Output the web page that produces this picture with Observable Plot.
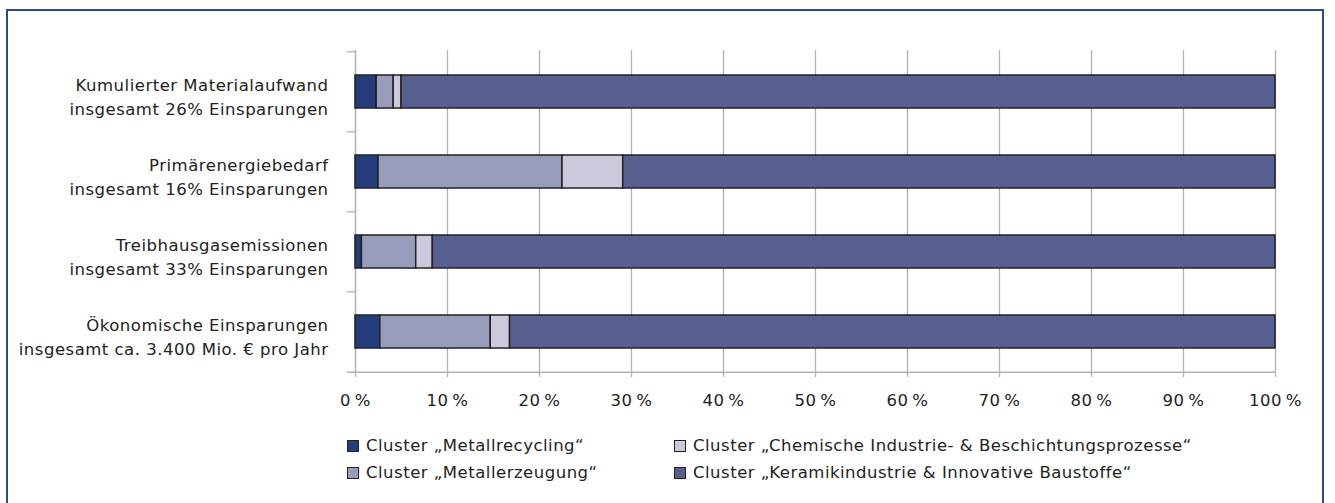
<!DOCTYPE html>
<html>
<head>
<meta charset="utf-8">
<script src="https://cdn.jsdelivr.net/npm/d3@7"></script>
<script src="https://cdn.jsdelivr.net/npm/@observablehq/plot@0.6"></script>
<style>
  html, body { margin: 0; padding: 0; background: #fff; }
  body { width: 1335px; height: 503px; position: relative; overflow: hidden; font-family: "DejaVu Sans", sans-serif; color: #222; }
  #frame { position: absolute; left: 6px; top: 9px; width: 1318px; height: 520px; border: 2px solid #2e4a8c; box-sizing: border-box; }
  #chart { position: absolute; left: 0; top: 0; }
  #legend { position: absolute; left: 0; top: 420px; width: 1335px; height: 83px; font-size: 16.5px; letter-spacing: 0.5px; }
  .item { position: absolute; display: flex; align-items: center; white-space: nowrap; }
  .sw { width: 10px; height: 10px; border: 1px solid #222; margin-right: 7px; }
</style>
</head>
<body>
<div id="frame"></div>
<div id="chart"></div>
<div id="legend"></div>
<script>
const categories = ["Kumulierter Materialaufwand", "Primärenergiebedarf", "Treibhausgasemissionen", "Ökonomische Einsparungen"];
const subLabels = ["insgesamt 26% Einsparungen", "insgesamt 16% Einsparungen", "insgesamt 33% Einsparungen", "insgesamt ca. 3.400 Mio. € pro Jahr"];
const clusters = [
  "Cluster „Metallrecycling“",
  "Cluster „Metallerzeugung“",
  "Cluster „Chemische Industrie- & Beschichtungsprozesse“",
  "Cluster „Keramikindustrie & Innovative Baustoffe“"
];
const metallrecycling = [2.3, 2.5, 0.7, 2.7];
const metallerzeugung = [1.85, 20.0, 5.9, 12.0];
const chemische = [0.85, 6.6, 1.8, 2.1];
const keramik = [95.0, 70.9, 91.6, 83.2];
const colors = ["#233c7a", "#9a9cbb", "#cacadc", "#575f8f"];
const xTicks = [0, 10, 20, 30, 40, 50, 60, 70, 80, 90, 100];

const series = [metallrecycling, metallerzeugung, chemische, keramik];
const data = [];
categories.forEach((c, i) => series.forEach((s, j) => data.push({category: c, cluster: clusters[j], value: s[i]})));

const step = (372 - 50) / categories.length;

const plot = Plot.plot({
  width: 1335,
  height: 420,
  marginLeft: 355,
  marginRight: 60,
  marginTop: 50,
  marginBottom: 48,
  style: {fontFamily: "DejaVu Sans, sans-serif", fontSize: "16.5px", letterSpacing: "0.5px", color: "#222", background: "transparent"},
  x: {domain: [0, 100], ticks: xTicks, label: null},
  y: {domain: categories, paddingInner: 0.59, paddingOuter: 0.295, label: null},
  color: {domain: clusters, range: colors},
  marks: [
    Plot.gridX(xTicks, {stroke: "#b3b3b3", strokeOpacity: 1, strokeWidth: 1.3}),
    Plot.ruleX([0], {stroke: "#b3b3b3", strokeWidth: 1.3}),
    Plot.ruleY(categories, {y: d => d, x1: -0.9, x2: 0, dy: -step / 2, stroke: "#b3b3b3", strokeWidth: 1.3}),
    Plot.ruleY(categories.slice(-1), {y: d => d, x1: -0.9, x2: 100, dy: step / 2, stroke: "#b3b3b3", strokeWidth: 1.3}),
    Plot.axisX(xTicks, {tickSize: 5, tickPadding: 17, stroke: "#b3b3b3", strokeWidth: 1.3, tickFormat: d => d + "\u2009%", fill: "#222", fontSize: 16.5, label: null}),
    Plot.axisY({tickSize: 0, tickPadding: 27, tickFormat: d => d + "\n" + subLabels[categories.indexOf(d)], lineHeight: 1.45, dy: 3, fill: "#222", fontSize: 16.5, label: null}),
    Plot.barX(data, Plot.stackX({y: "category", x: "value", fill: "cluster", stroke: "#222", strokeWidth: 1.5}))
  ]
});
document.getElementById("chart").appendChild(plot);

const colorScale = plot.scale("color");
const legendPos = [
  {i: 0, left: 347, top: 16},
  {i: 2, left: 674, top: 16},
  {i: 1, left: 347, top: 43},
  {i: 3, left: 674, top: 43}
];
const legend = document.getElementById("legend");
legendPos.forEach(p => {
  const item = document.createElement("div");
  item.className = "item";
  item.style.left = p.left + "px";
  item.style.top = p.top + "px";
  const sw = document.createElement("span");
  sw.className = "sw";
  sw.style.background = colorScale.apply(clusters[p.i]);
  const t = document.createElement("span");
  t.textContent = clusters[p.i];
  item.appendChild(sw);
  item.appendChild(t);
  legend.appendChild(item);
});
</script>
</body>
</html>
